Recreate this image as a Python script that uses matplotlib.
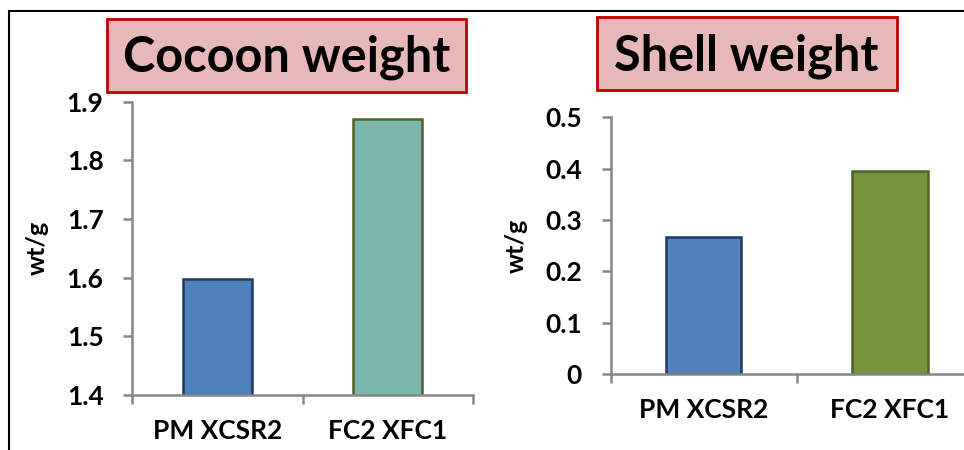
import matplotlib.pyplot as plt
from matplotlib.patches import Rectangle

plt.rcParams['font.family'] = ['Lato', 'DejaVu Sans']
plt.rcParams['font.weight'] = 'bold'

categories = ['PM XCSR2', 'FC2 XFC1']
cocoon_weight = [1.597, 1.870]
shell_weight = [0.266, 0.396]
cocoon_ticks = [1.4, 1.5, 1.6, 1.7, 1.8, 1.9]
shell_ticks = [0, 0.1, 0.2, 0.3, 0.4, 0.5]

W, H = 964, 450
fig = plt.figure(figsize=(W / 100, H / 100), dpi=100)


def px_rect(x0, y0, x1, y1):
    # pixel box (top-left origin) -> figure fraction [left, bottom, width, height]
    return [x0 / W, 1 - y1 / H, (x1 - x0) / W, (y1 - y0) / H]


axis_grey = '#868686'


def style_axes(ax, ticks, ylim):
    ax.set_xlim(-0.5, 1.5)
    ax.set_ylim(*ylim)
    ax.set_yticks(ticks)
    ax.set_yticklabels([f'{t:g}' for t in ticks])
    ax.set_xticks([-0.5, 0.5, 1.5], minor=False)
    ax.set_xticklabels([])
    ax.set_xticks([0, 1], minor=True)
    ax.set_xticklabels(categories, minor=True)
    for s in ['top', 'right']:
        ax.spines[s].set_visible(False)
    for s in ['left', 'bottom']:
        ax.spines[s].set_color(axis_grey)
        ax.spines[s].set_linewidth(1.8)
    ax.tick_params(axis='y', which='major', direction='out', length=6.5,
                   width=1.8, color=axis_grey, labelsize=19, pad=14)
    ax.tick_params(axis='x', which='major', direction='out', length=6.5,
                   width=1.8, color=axis_grey)
    ax.tick_params(axis='x', which='minor', length=0, labelsize=19, pad=17)
    ax.set_ylabel('wt/g', fontsize=18, fontweight='bold')


# left panel: cocoon weight
ax1 = fig.add_axes(px_rect(132, 101.7, 473, 395))
ax1.bar([0, 1], cocoon_weight, width=0.405, bottom=0,
        color=['#4F81BD', '#7AB8AD'], edgecolor=['#1F3A60', '#4F6228'],
        linewidth=1.8)
style_axes(ax1, cocoon_ticks, (1.4, 1.9))
ax1.yaxis.set_label_coords(-0.245, 0.5)

# right panel: shell weight (runs off the right edge)
ax2 = fig.add_axes(px_rect(610.5, 117.3, 983, 374))
ax2.bar([0, 1], shell_weight, width=0.405,
        color=['#4F81BD', '#77933C'], edgecolor=['#1F3A60', '#4F6228'],
        linewidth=1.8)
style_axes(ax2, shell_ticks, (0, 0.5))
ax2.yaxis.set_label_coords(-0.222, 0.5)

# title boxes
for (x0, y0, x1, y1), title in [((106.7, 19, 465.7, 91.7), 'Cocoon weight'),
                                ((596.7, 17.3, 896.7, 90), 'Shell weight')]:
    l, b, w, h = px_rect(x0, y0, x1, y1)
    fig.add_artist(Rectangle((l, b), w, h, transform=fig.transFigure,
                             facecolor='#E6B9B8', edgecolor='#C00000',
                             linewidth=2))
    fig.text(l + w / 2, b + h / 2 - 0.005, title, ha='center', va='center',
             fontsize=35, fontweight='bold', color='black')

# outer frame, cut off on the right and bottom
fig.add_artist(Rectangle((9 / W, -0.1), 1.2, 1.1 - 11 / H,
                         transform=fig.transFigure, fill=False,
                         edgecolor='black', linewidth=1.5))

fig.savefig('out.png', dpi=100)
